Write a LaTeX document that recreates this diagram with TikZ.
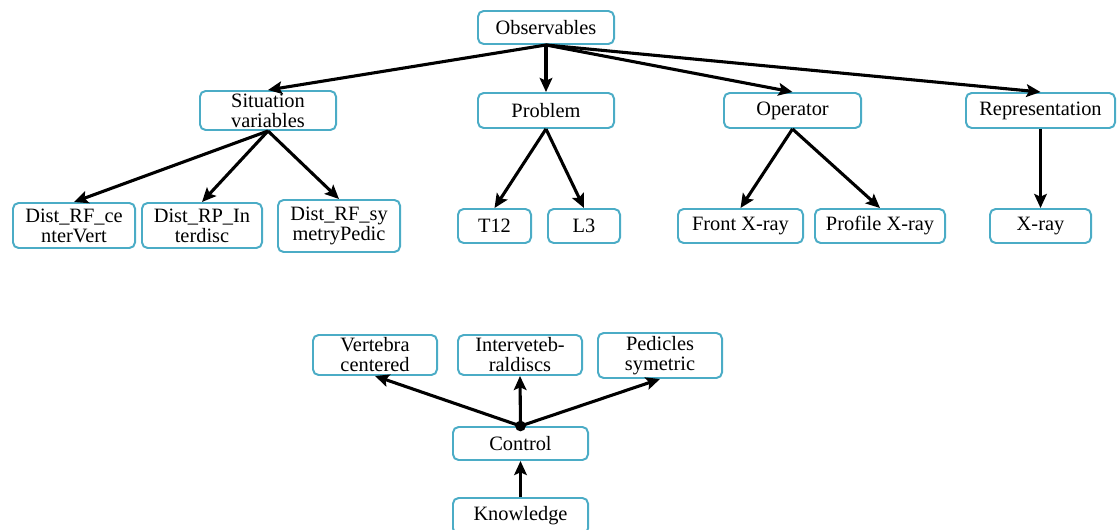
\documentclass[tikz,border=0pt]{standalone}
\usepackage{fontspec}
\setmainfont{Liberation Serif}
\usetikzlibrary{arrows.meta}
\definecolor{boxblue}{RGB}{75,172,198}
\tikzset{
  box/.style={draw=boxblue, line width=1.4pt, rounded corners=4pt, fill=white,
    align=center, inner sep=1pt, font=\fontsize{14.5}{14.2}\selectfont},
  link/.style={line width=2.2pt, -{Stealth[length=10pt,width=9pt,inset=2pt]}}
}
\begin{document}
\begin{tikzpicture}[x=0.025cm,y=-0.025cm]
            \useasboundingbox (0,0) rectangle (1117,530);
            % top tree
            \node[box, minimum width=3.4cm, minimum height=0.825cm] (obs) at (546,27.5) {Observables};
            \node[box, minimum width=3.4cm, minimum height=0.975cm] (sit) at (268,110.5) {Situation\\variables};
            \node[box, minimum width=3.4cm, minimum height=0.875cm] (prob) at (546,110.5) {Problem};
            \node[box, minimum width=3.425cm, minimum height=0.875cm] (oper) at (792.5,110.5) {Operator};
            \node[box, minimum width=3.725cm, minimum height=0.875cm] (repr) at (1040.5,110.5) {Representation};
            \node[box, minimum width=3.05cm, minimum height=1.125cm] (d1) at (74,225.5) {Dist\_RF\_ce\\nterVert};
            \node[box, minimum width=3.0cm, minimum height=1.125cm] (d2) at (202,225.5) {Dist\_RP\_In\\terdisc};
            \node[box, minimum width=3.05cm, minimum height=1.3cm] (d3) at (339,226) {Dist\_RF\_sy\\metryPedic};
            \node[box, minimum width=1.825cm, minimum height=0.85cm] (t12) at (494.5,226) {T12};
            \node[box, minimum width=1.8cm, minimum height=0.85cm] (l3) at (584,226) {L3};
            \node[box, minimum width=3.125cm, minimum height=0.85cm] (front) at (740.5,226) {Front X-ray};
            \node[box, minimum width=3.25cm, minimum height=0.85cm] (prof) at (880,226) {Profile X-ray};
            \node[box, minimum width=2.525cm, minimum height=0.85cm] (xray) at (1040.5,226) {X-ray};
            \draw[link] (obs.south)--(sit.north);
            \draw[link] (obs.south)--(prob.north);
            \draw[link] (obs.south)--(oper.north);
            \draw[link] (obs.south)--(repr.north);
            \draw[link] (sit.south)--(d1.north);
            \draw[link] (sit.south)--(d2.north);
            \draw[link] (sit.south)--(d3.north);
            \draw[link] (prob.south)--(t12.north);
            \draw[link] (prob.south)--(l3.north);
            \draw[link] (oper.south)--(front.north);
            \draw[link] (oper.south)--(prof.north);
            \draw[link] (repr.south)--(xray.north);
            % control tree
            \node[box, minimum width=3.1cm, minimum height=1.0cm] (vert) at (375,355) {Vertebra\\centered};
            \node[box, minimum width=3.1cm, minimum height=1.0cm] (inter) at (520,355) {Interveteb-\\raldiscs};
            \node[box, minimum width=3.1cm, minimum height=1.125cm] (ped) at (660,355.5) {Pedicles\\symetric};
            \node[box, minimum width=3.375cm, minimum height=0.825cm] (ctrl) at (520.5,443.5) {Control};
            \node[box, minimum width=3.375cm, minimum height=0.9cm] (know) at (520.5,516) {Knowledge};
            \draw[link] (ctrl.north)--(vert.south);
            \draw[link] (ctrl.north)--(inter.south);
            \draw[link] (ctrl.north)--(ped.south);
            \fill (ctrl.north) circle (3.8pt);
            \draw[link] (know.north)--(ctrl.south);
        \end{tikzpicture}
\end{document}
